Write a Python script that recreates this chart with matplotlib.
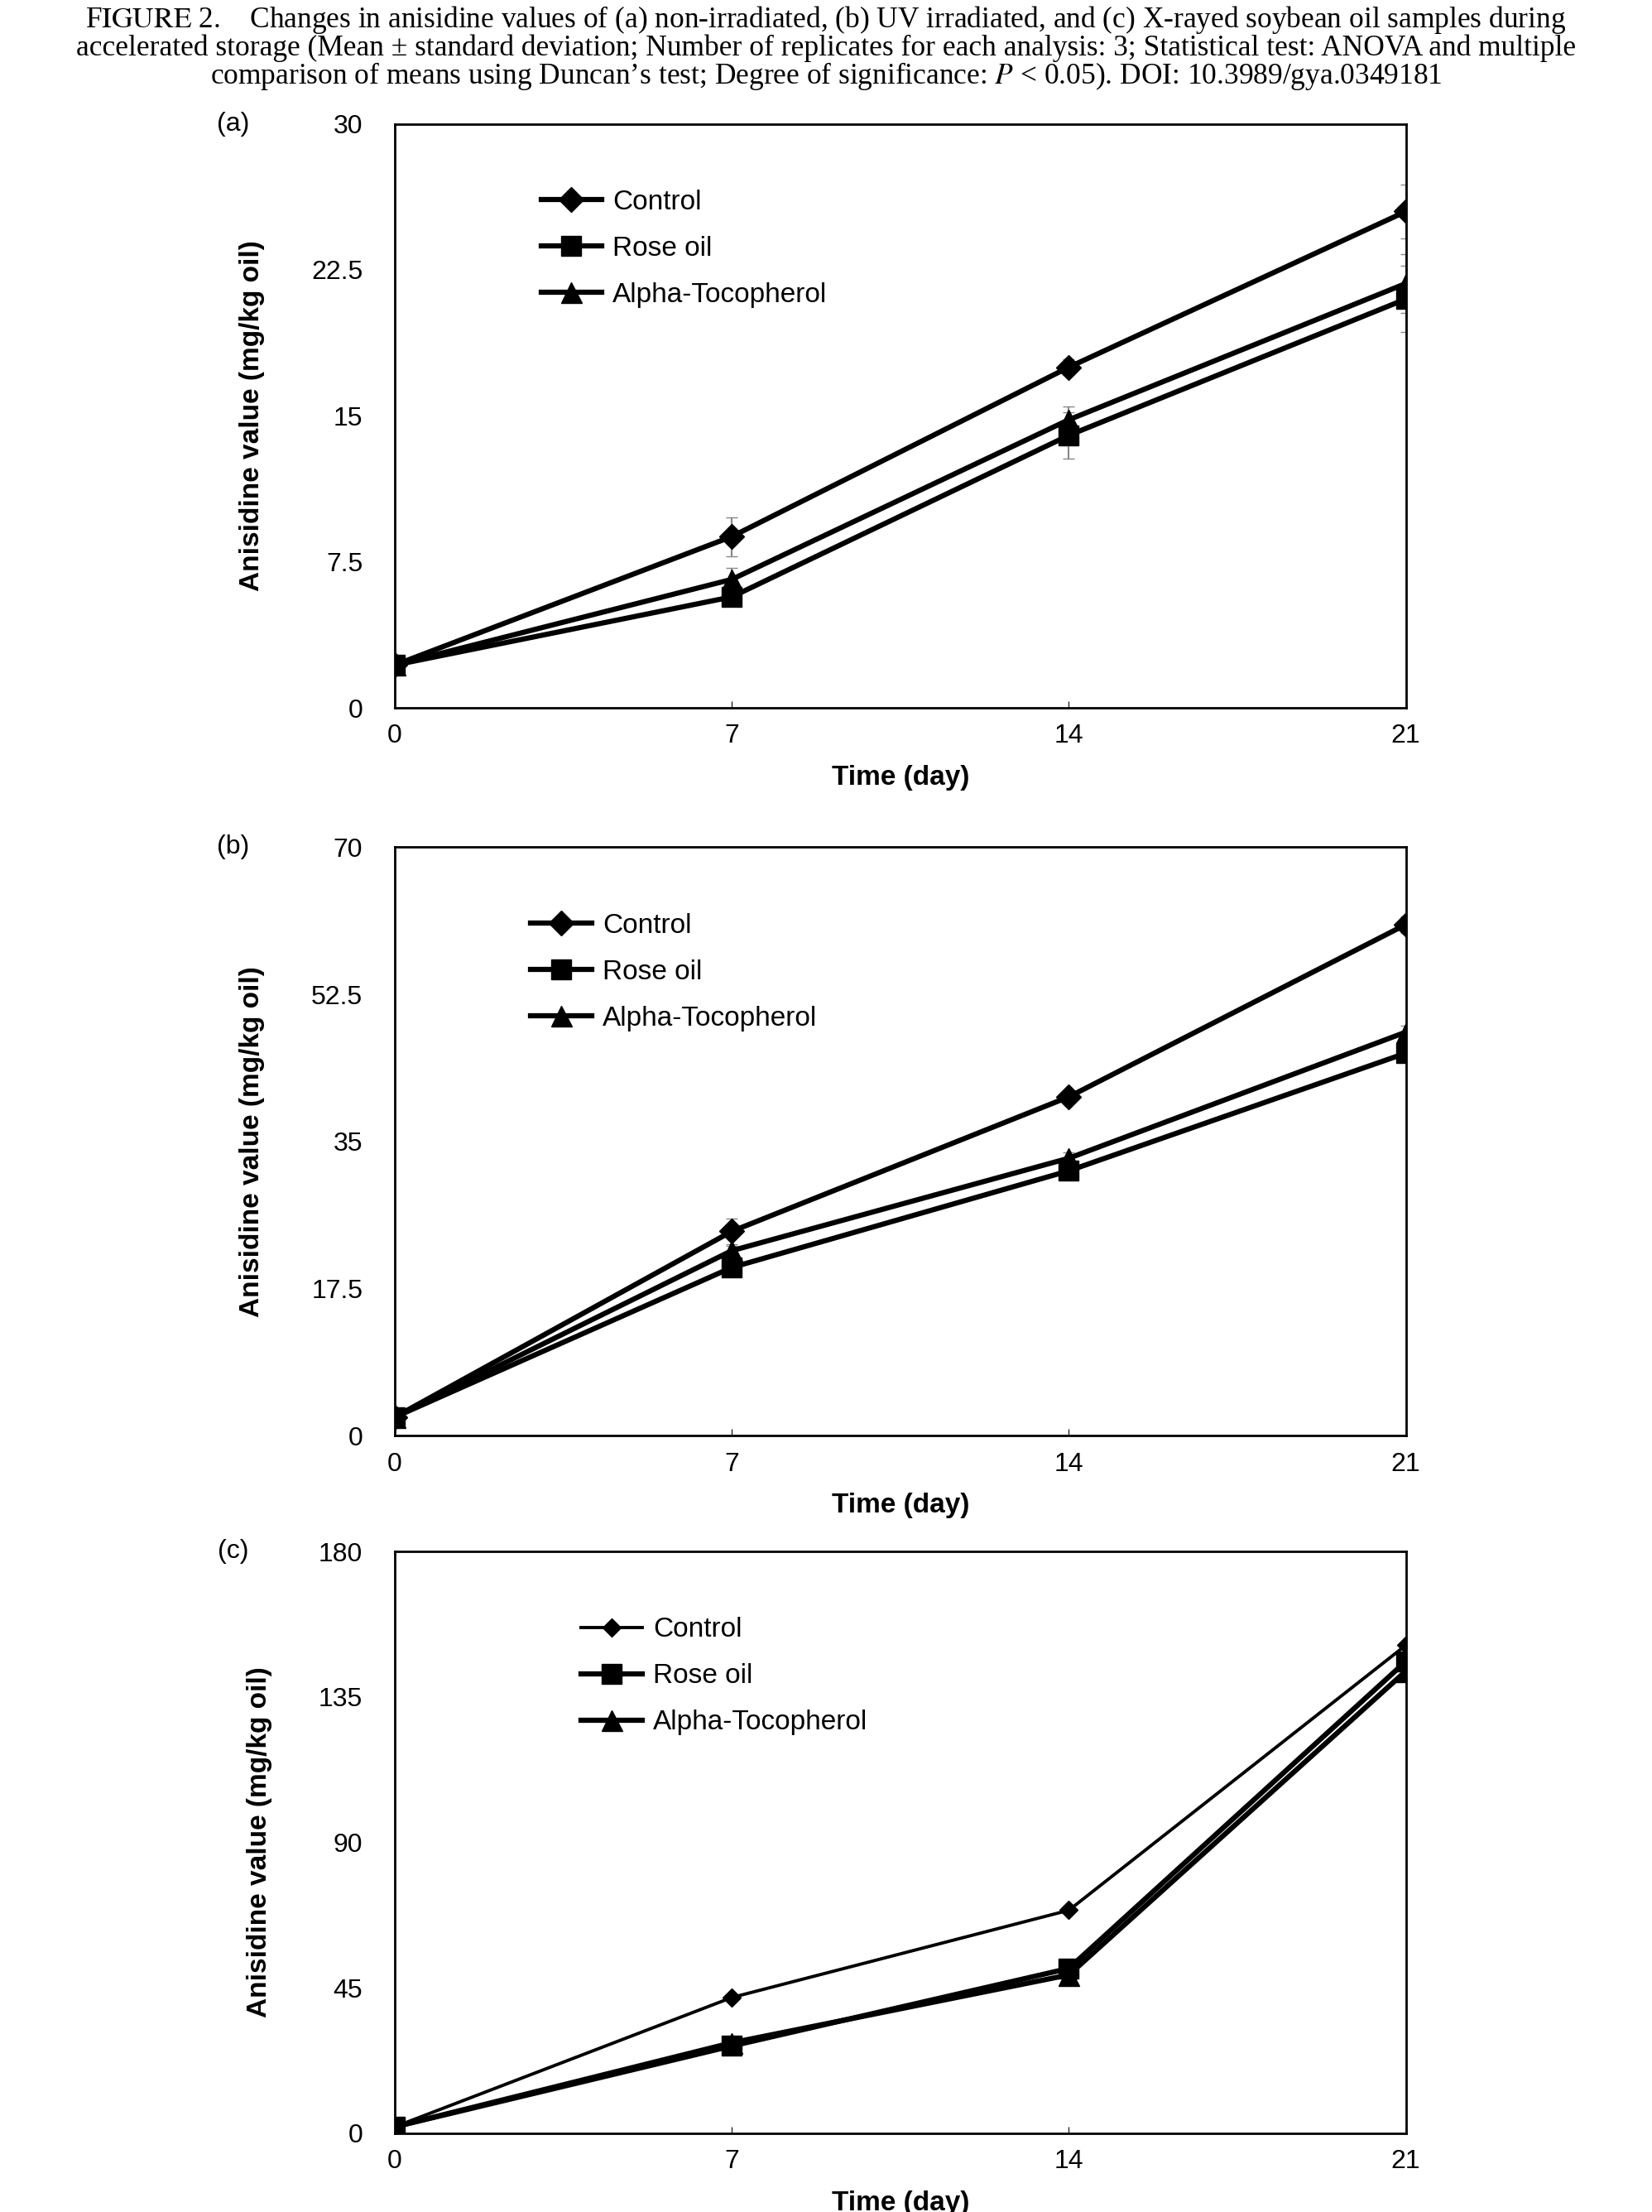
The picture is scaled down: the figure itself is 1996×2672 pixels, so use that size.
import matplotlib
matplotlib.use("Agg")
import matplotlib.pyplot as plt
from matplotlib.lines import Line2D

plt.rcParams["font.family"] = ["Liberation Sans", "DejaVu Sans"]
plt.rcParams["mathtext.fontset"] = "stix"

days = [0, 7, 14, 21]
series_names = ["Control", "Rose oil", "Alpha-Tocopherol"]

a_control = [2.2, 8.8, 17.5, 25.5]
a_rose = [2.2, 5.7, 14.0, 21.0]
a_alpha = [2.2, 6.6, 14.8, 21.8]
a_control_err = [0.2, 1.0, 0.4, 1.4]
a_rose_err = [0.2, 0.4, 1.2, 1.7]
a_alpha_err = [0.2, 0.6, 0.7, 1.5]

b_control = [2.2, 24.3, 40.3, 60.8]
b_rose = [2.2, 20.0, 31.5, 45.5]
b_alpha = [2.2, 22.0, 33.0, 48.0]
b_control_err = [0.2, 1.5, 0.6, 1.0]
b_rose_err = [0.2, 0.5, 0.8, 0.8]
b_alpha_err = [0.2, 0.6, 0.7, 0.8]

c_control = [2.0, 42.0, 69.0, 151.0]
c_rose = [2.0, 27.0, 51.0, 146.0]
c_alpha = [2.0, 28.0, 49.0, 143.0]

panels = [
    ("(a)", [0.680, 0.264], 30, [0, 7.5, 15, 22.5, 30], ["0", "7.5", "15", "22.5", "30"],
     [a_control, a_rose, a_alpha], [a_control_err, a_rose_err, a_alpha_err], [4.5, 4.5, 4.5], 0.12),
    ("(b)", [0.351, 0.266], 70, [0, 17.5, 35, 52.5, 70], ["0", "17.5", "35", "52.5", "70"],
     [b_control, b_rose, b_alpha], [b_control_err, b_rose_err, b_alpha_err], [4.5, 4.5, 4.5], 0.11),
    ("(c)", [0.0356, 0.263], 180, [0, 45, 90, 135, 180], ["0", "45", "90", "135", "180"],
     [c_control, c_rose, c_alpha], [None, None, None], [2.8, 4.5, 4.5], 0.16),
]
markers = ["D", "s", "^"]
msizes = [15, 17, 18]

fig = plt.figure(figsize=(19.96, 26.72), dpi=100)
fig.text(0.5, 0.998,
         "F$\\mathrm{IGURE}$ 2.    Changes in anisidine values of (a) non-irradiated, (b) UV irradiated, and (c) X-rayed soybean oil samples during\n"
         "accelerated storage (Mean \u00b1 standard deviation; Number of replicates for each analysis: 3; Statistical test: ANOVA and multiple\n"
         "comparison of means using Duncan\u2019s test; Degree of significance: $P$ < 0.05). DOI: 10.3989/gya.0349181",
         ha="center", va="top", fontsize=25.5, family="Liberation Serif", linespacing=0.92)

for label, (bot, h), ymax, yt, ytl, ys, errs, lws, leg_x in panels:
    ax = fig.add_axes([0.239, bot, 0.612, h])
    handles = []
    for i, (name, y, e, m, ms, lw) in enumerate(zip(series_names, ys, errs, markers, msizes, lws)):
        msz = ms if not (label == "(c)" and i == 0) else 11
        ax.errorbar(days, y, yerr=e, color="black", marker=m, markersize=msz, lw=lw,
                    ecolor="#888888", elinewidth=1.5, capsize=5)
        handles.append(Line2D([], [], color="black", marker=m, markersize=msz, lw=lw, label=name))
    ax.set_xlim(0, 21)
    ax.set_ylim(0, ymax)
    ax.set_xticks(days)
    ax.set_yticks(yt)
    ax.set_yticklabels(ytl)
    ax.tick_params(axis="both", labelsize=23, length=6, direction="in", pad=14)
    ax.tick_params(axis="y", length=0, pad=28)
    for s in ax.spines.values():
        s.set_linewidth(2)
    ax.set_xlabel("Time (day)", fontsize=24, fontweight="bold", labelpad=14)
    ax.set_ylabel("Anisidine value (mg/kg oil)", fontsize=24, fontweight="bold", labelpad=40)
    ax.text(-0.16, 1.0, label, transform=ax.transAxes, fontsize=23, ha="center", va="center")
    ax.legend(handles=handles, loc="upper left", bbox_to_anchor=(leg_x, 0.93), frameon=False,
              fontsize=24, handlelength=2.2, labelspacing=0.75, handletextpad=0.4)

fig.savefig("out.png", dpi=100)
